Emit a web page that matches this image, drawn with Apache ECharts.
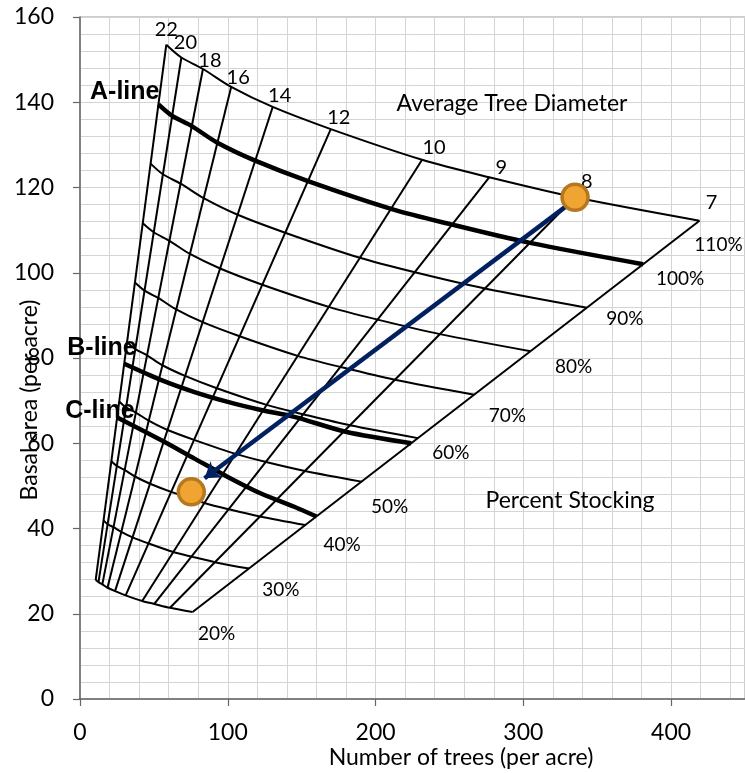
<!DOCTYPE html>
<html><head><meta charset="utf-8">
<script src="https://cdn.jsdelivr.net/npm/echarts@6/dist/echarts.min.js"></script>
<style>html,body{margin:0;padding:0;background:#fff}#c{width:745px;height:773px}</style>
</head><body><div id="c"></div>
<script>
// ---- data ----
const diameterLabels = ['22','20','18','16','14','12','10','9','8','7'];
const stockingLabels = ['110%','100%','90%','80%','70%','60%','50%','40%','30%','20%'];

const trees110 = [58.4, 68.6, 83.2, 102.3, 130.4, 169.7, 231.5, 276.9, 334.9, 419.2];
const ba110    = [153.5, 150.5, 147.8, 143.6, 138.9, 133.7, 126.5, 122.4, 117.7, 112.2];
const trees100 = [53.1, 62.4, 75.6, 93.0, 118.5, 154.3, 210.5, 251.7, 304.5, 381.1];
const ba100    = [139.5, 136.8, 134.4, 130.5, 126.3, 121.5, 115.0, 111.3, 107.0, 102.0];
const trees90  = [47.8, 56.1, 68.1, 83.7, 106.7, 138.8, 189.4, 226.6, 274.0, 343.0];
const ba90     = [125.6, 123.1, 120.9, 117.5, 113.6, 109.4, 103.5, 100.1, 96.3, 91.8];
const trees80  = [42.5, 49.9, 60.5, 74.4, 94.8, 123.4, 168.4, 201.4, 243.6, 304.9];
const ba80     = [111.6, 109.5, 107.5, 104.4, 101.0, 97.2, 92.0, 89.0, 85.6, 81.6];
const trees70  = [37.2, 43.7, 52.9, 65.1, 83.0, 108.0, 147.3, 176.2, 213.1, 266.8];
const ba70     = [97.7, 95.8, 94.1, 91.4, 88.4, 85.1, 80.5, 77.9, 74.9, 71.4];
const trees60  = [31.9, 37.4, 45.4, 55.8, 71.1, 92.6, 126.3, 151.0, 182.7, 228.7];
const ba60     = [83.7, 82.1, 80.6, 78.3, 75.8, 72.9, 69.0, 66.8, 64.2, 61.2];
const trees50  = [26.5, 31.2, 37.8, 46.5, 59.3, 77.1, 105.2, 125.9, 152.2, 190.5];
const ba50     = [69.8, 68.4, 67.2, 65.3, 63.1, 60.8, 57.5, 55.6, 53.5, 51.0];
const trees40  = [21.2, 24.9, 30.3, 37.2, 47.4, 61.7, 84.2, 100.7, 121.8, 152.4];
const ba40     = [55.8, 54.7, 53.7, 52.2, 50.5, 48.6, 46.0, 44.5, 42.8, 40.8];
const trees30  = [15.9, 18.7, 22.7, 27.9, 35.6, 46.3, 63.1, 75.5, 91.3, 114.3];
const ba30     = [41.9, 41.0, 40.3, 39.2, 37.9, 36.5, 34.5, 33.4, 32.1, 30.6];
const trees20  = [10.6, 12.5, 15.1, 18.6, 23.7, 30.9, 42.1, 50.3, 60.9, 76.2];
const ba20     = [27.9, 27.4, 26.9, 26.1, 25.3, 24.3, 23.0, 22.3, 21.4, 20.4];

const treesB = [29.6, 55.1, 77.5, 100.0, 122.5, 145.0, 179.8, 224.2];
const baB    = [78.7, 74.8, 72.0, 69.7, 67.8, 66.2, 62.7, 60.0];
const treesC = [25.5, 55.1, 77.5, 100.0, 122.5, 145.0, 160.0];
const baC    = [66.0, 60.7, 56.4, 52.1, 48.2, 45.1, 42.8];

const standTrees = [335.0, 75.3];
const standBA    = [117.7, 48.6];
const arrowTrees = [328.2, 84.3];
const arrowBA    = [115.4, 51.8];

const xAxisMin = 0, xAxisMax = 450, xTickStep = 100, xGridStep = 20;
const yAxisMin = 0, yAxisMax = 160, yTickStep = 20;

// ---- label placement (pixels, styling only) ----
const diameterOffsets = [[0,-15],[4,-15],[7,-8],[7,-9],[7,-11],[8,-12],[12,-12],[12,-10],[12,-16],[12,-18]];
const stockingOffsets = [[19,24],[37,15],[38,11],[43,16],[33,21],[33,15],[28,25],[37,20],[32,21],[24,22]];

const FONT = 'Lato, "Open Sans", sans-serif';
const ARIAL = '"Liberation Sans", Arial, sans-serif';

const stockTrees = [trees110, trees100, trees90, trees80, trees70, trees60, trees50, trees40, trees30, trees20];
const stockBA    = [ba110, ba100, ba90, ba80, ba70, ba60, ba50, ba40, ba30, ba20];
const pairs = (xs, ys) => xs.map((x, i) => [x, ys[i]]);

const series = [];
diameterLabels.forEach((d, i) => {
  series.push({type:'line', name:d, data:[[trees20[i], ba20[i]], [trees110[i], ba110[i]]],
    symbol:'none', lineStyle:{color:'#000', width:2}, z:2, silent:true});
});
stockingLabels.forEach((s, k) => {
  const isA = s === '100%';
  series.push({type:'line', name:s, data:pairs(stockTrees[k], stockBA[k]), symbol:'none', smooth:0.3,
    lineStyle:{color:'#000', width:isA ? 4.5 : 2}, z:isA ? 3 : 2, silent:true});
});
series.push({type:'line', name:'B-line', data:pairs(treesB, baB), symbol:'none', smooth:0.3,
  lineStyle:{color:'#000', width:4.5}, z:3, silent:true});
series.push({type:'line', name:'C-line', data:pairs(treesC, baC), symbol:'none', smooth:0.3,
  lineStyle:{color:'#000', width:4.5}, z:3, silent:true});

const hiddenItem = {color:'rgba(0,0,0,0)', opacity:1};
// line names
series.push({type:'scatter', symbolSize:1, itemStyle:hiddenItem, z:6, silent:true,
  label:{show:true, position:'inside', formatter:'{b}', align:'right', verticalAlign:'middle',
    fontFamily:ARIAL, fontWeight:'bold', fontSize:25, color:'#000', opacity:1, textBorderWidth:0},
  data:[
    {name:'A-line', value:[trees100[0], ba100[0]], label:{offset:[1,-12]}},
    {name:'B-line', value:[treesB[0], baB[0]], label:{offset:[13,-15.5]}},
    {name:'C-line', value:[treesC[0], baC[0]], label:{offset:[17,-6.7]}}
  ]});
// diameter labels
series.push({type:'scatter', symbolSize:1, itemStyle:hiddenItem, z:6, silent:true,
  label:{show:true, position:'inside', formatter:'{b}', fontFamily:FONT, fontSize:20, color:'#000', opacity:1, textBorderWidth:0},
  data:diameterLabels.map((d, i) => ({name:d, value:[trees110[i], ba110[i]], label:{offset:diameterOffsets[i]}}))});
// stocking labels
series.push({type:'scatter', symbolSize:1, itemStyle:hiddenItem, z:6, silent:true,
  label:{show:true, position:'inside', formatter:'{b}', fontFamily:FONT, fontSize:19, color:'#000', opacity:1, textBorderWidth:0},
  data:stockingLabels.map((s, k) => ({name:s, value:[stockTrees[k][9], stockBA[k][9]], label:{offset:stockingOffsets[k]}}))});
// arrow
series.push({type:'lines', coordinateSystem:'cartesian2d', z:8, silent:true,
  symbol:['none','arrow'], symbolSize:15,
  lineStyle:{color:'#002060', width:4.5, opacity:1, curveness:0},
  data:[{coords:[[arrowTrees[0], arrowBA[0]], [arrowTrees[1], arrowBA[1]]]}]});
// stand points
series.push({type:'scatter', z:10, silent:true, symbolSize:26,
  itemStyle:{color:'#F0A432', borderColor:'#B5781F', borderWidth:3.5, opacity:1},
  data:pairs(standTrees, standBA)});

const chart = echarts.init(document.getElementById('c'), null, {renderer:'canvas'});
chart.setOption({
  animation:false,
  backgroundColor:'#fff',
  grid:{left:80, right:-1, top:17, bottom:74, show:true, borderColor:'#9a9a9a', borderWidth:1},
  xAxis:[
    {type:'value', min:xAxisMin, max:xAxisMax, interval:xTickStep, position:'bottom',
      axisLine:{show:true, onZero:false, lineStyle:{color:'#666', width:1.5}},
      axisTick:{show:true, length:7, lineStyle:{color:'#666', width:1.2}},
      axisLabel:{fontSize:23, fontFamily:FONT, color:'#000', margin:22, showMaxLabel:false},
      splitLine:{show:false}},
    {type:'value', min:xAxisMin, max:xAxisMax, interval:xGridStep,
      axisLine:{show:false}, axisTick:{show:false}, axisLabel:{show:false},
      splitLine:{show:true, lineStyle:{color:'#d4d4d4', width:1}}}
  ],
  yAxis:{type:'value', min:yAxisMin, max:yAxisMax, interval:yTickStep,
    axisLine:{show:true, onZero:false, lineStyle:{color:'#666', width:1.5}},
    axisTick:{show:true, length:7, lineStyle:{color:'#666', width:1.2}},
    axisLabel:{fontSize:23, fontFamily:FONT, color:'#000', margin:26},
    splitLine:{show:true, lineStyle:{color:'#d4d4d4', width:1}},
    minorTick:{show:false, splitNumber:5},
    minorSplitLine:{show:true, lineStyle:{color:'#d4d4d4', width:1}}},
  graphic:[
    {type:'text', x:461, y:758, z:20, style:{text:'Number of trees (per acre)', fontSize:23, fontFamily:FONT, fill:'#000', align:'center', verticalAlign:'middle'}},
    {type:'text', x:30, y:400, rotation:Math.PI/2, z:20, style:{text:'Basal area (per acre)', fontSize:23, fontFamily:FONT, fill:'#000', align:'center', verticalAlign:'middle'}},
    {type:'text', x:512, y:104, z:20, style:{text:'Average Tree Diameter', fontSize:23, fontFamily:FONT, fill:'#000', align:'center', verticalAlign:'middle'}},
    {type:'text', x:570, y:501, z:20, style:{text:'Percent Stocking', fontSize:23, fontFamily:FONT, fill:'#000', align:'center', verticalAlign:'middle'}}
  ],
  series:series
});
</script>
</body></html>
